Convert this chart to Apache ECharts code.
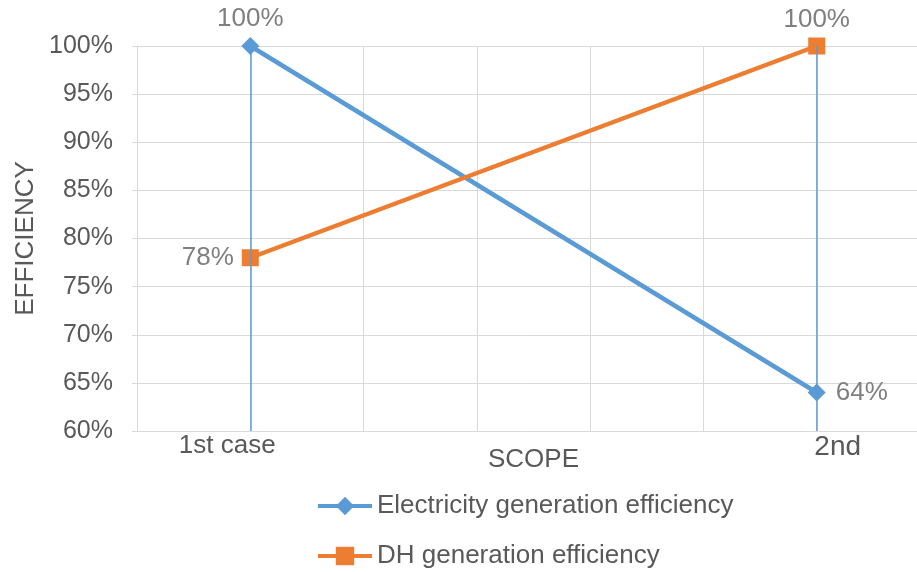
<!DOCTYPE html>
<html>
<head>
<meta charset="utf-8">
<script src="https://cdn.jsdelivr.net/npm/echarts@6/dist/echarts.min.js"></script>
<style>
  html, body { margin: 0; padding: 0; background: #ffffff; overflow: hidden; }
  #chart { width: 917px; height: 572px; }
</style>
</head>
<body>
<div id="chart"></div>
<script>
// Scope positions on the x scale and their labels
const scopeX = [1, 6];
const scopeLabels = ['1st case', '2nd'];

// Efficiency values (%) for each scope
const electricity = [100, 64];
const districtHeat = [78, 100];

// Y-axis range
const yMin = 60;
const yMax = 100;
const yStep = 5;

const BLUE = '#5B9BD5';
const ORANGE = '#ED7D31';
const TEXT = '#595959';
const LABEL = '#7F7F7F';
const GRID = '#D9D9D9';
const FONT = 'Liberation Sans, Arial, sans-serif';

const toPairs = (vals) => scopeX.map((x, i) => [x, vals[i]]);

const chart = echarts.init(document.getElementById('chart'), null, { renderer: 'canvas' });

// Label placement per point: above the top points, beside the lower ones
const elecLabelPos = [{ position: 'top', distance: 5 }, { position: 'right', distance: 10 }];
const heatLabelPos = [{ position: 'left', distance: 8 }, { position: 'top', distance: 5 }];

const valueLabel = {
  show: true,
  color: LABEL,
  fontSize: 26,
  fontFamily: FONT,
  formatter: (p) => p.value[1] + '%'
};

chart.setOption({
  backgroundColor: '#ffffff',
  animation: false,
  textStyle: { fontFamily: FONT },
  // The plot runs a little past the right edge of the canvas
  grid: {
    left: 137, top: 46, width: 793, bottom: 141,
    containLabel: false,
    outerBoundsMode: 'none'
  },
  xAxis: {
    type: 'value',
    min: 0,
    max: 7,
    interval: 1,
    name: 'SCOPE',
    nameLocation: 'middle',
    nameGap: 16,
    nameMoveOverlap: false,
    nameTextStyle: { color: TEXT, fontSize: 26, fontFamily: FONT },
    axisLine: { show: true, lineStyle: { color: GRID, width: 1 } },
    axisTick: { show: false },
    splitLine: { show: true, lineStyle: { color: GRID, width: 1 } },
    axisLabel: {
      customValues: scopeX,
      margin: 2,
      color: TEXT,
      fontSize: 26,
      fontFamily: FONT,
      formatter: (v) => {
        const i = scopeX.indexOf(v);
        if (i < 0) return '';
        return i === 0 ? '{l|' + scopeLabels[i] + '}' : '{r|' + scopeLabels[i] + '}';
      },
      rich: {
        l: { color: TEXT, fontSize: 26, fontFamily: FONT, padding: [0, 46, 0, 0] },
        r: { color: TEXT, fontSize: 28, fontFamily: FONT, padding: [0, 0, 0, 42] }
      }
    }
  },
  yAxis: {
    type: 'value',
    min: yMin,
    max: yMax,
    interval: yStep,
    name: 'EFFICIENCY',
    nameLocation: 'middle',
    nameGap: 98,
    nameMoveOverlap: false,
    nameTextStyle: { color: TEXT, fontSize: 26, fontFamily: FONT },
    axisLine: { show: true, lineStyle: { color: GRID, width: 1 } },
    axisTick: { show: true, length: 5, lineStyle: { color: GRID, width: 1 } },
    splitLine: { show: true, lineStyle: { color: GRID, width: 1 } },
    axisLabel: {
      margin: 24,
      color: TEXT,
      fontSize: 25,
      fontFamily: FONT,
      formatter: '{value}%'
    }
  },
  legend: {
    orient: 'vertical',
    left: 316,
    top: 491,
    padding: 0,
    itemWidth: 54,
    itemHeight: 23,
    itemGap: 20,
    lineStyle: { width: 4 },
    textStyle: { color: TEXT, fontSize: 26, fontFamily: FONT, lineHeight: 30 },
    data: ['Electricity generation efficiency', 'DH generation efficiency']
  },
  series: [
    {
      name: 'Electricity generation efficiency',
      type: 'line',
      data: toPairs(electricity).map((d, i) => ({ value: d, label: elecLabelPos[i] })),
      symbol: 'diamond',
      symbolSize: 18,
      lineStyle: { color: BLUE, width: 4.5 },
      itemStyle: { color: BLUE },
      z: 3,
      label: valueLabel,
      emphasis: { disabled: true },
      // Drop lines from each scope down to the horizontal axis
      markLine: {
        silent: true,
        symbol: ['none', 'none'],
        label: { show: false },
        lineStyle: { color: BLUE, width: 1.5, type: 'solid' },
        data: scopeX.map((x) => ({ xAxis: x }))
      }
    },
    {
      name: 'DH generation efficiency',
      type: 'line',
      data: toPairs(districtHeat).map((d, i) => ({ value: d, label: heatLabelPos[i] })),
      symbol: 'rect',
      symbolSize: 17,
      lineStyle: { color: ORANGE, width: 4.5 },
      itemStyle: { color: ORANGE },
      z: 4,
      label: valueLabel,
      emphasis: { disabled: true }
    }
  ]
});
</script>
</body>
</html>
